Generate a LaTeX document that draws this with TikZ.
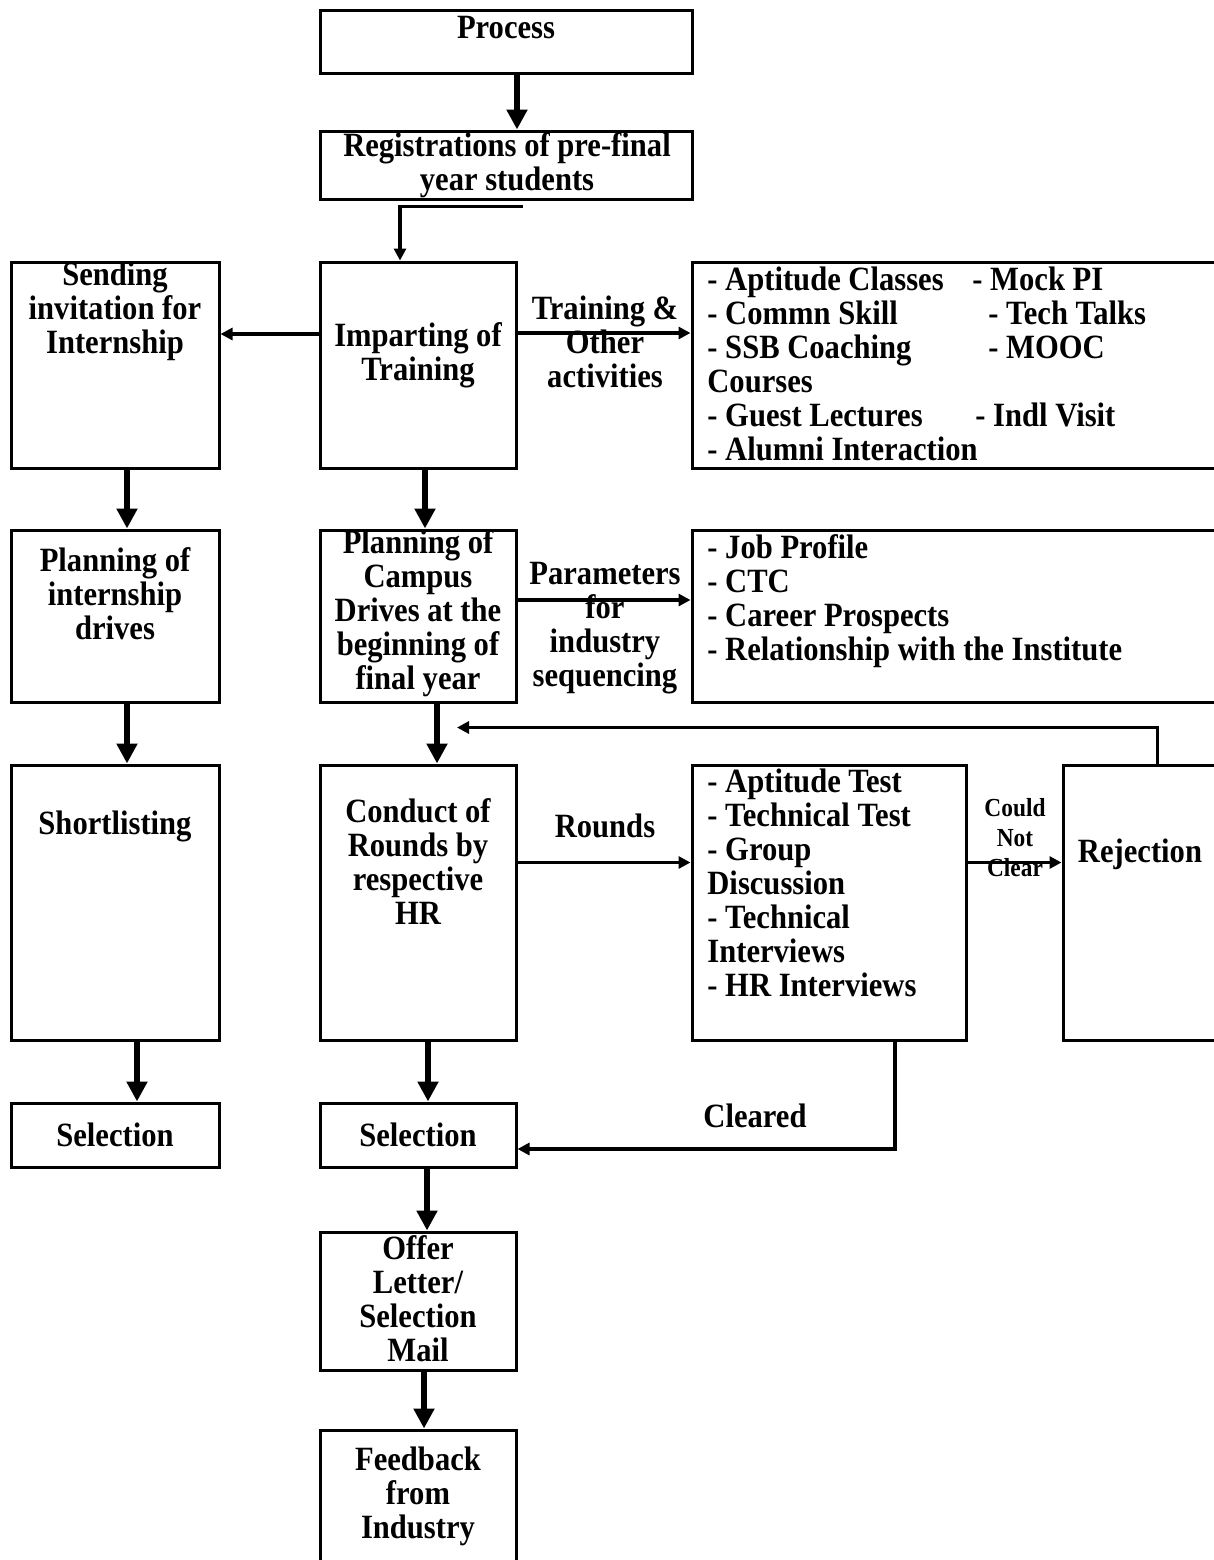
\documentclass[tikz,border=0pt]{standalone}
\usepackage{fontspec}
\setmainfont{Liberation Serif}[FakeStretch=0.9]
\usetikzlibrary{fit,arrows.meta}

\tikzset{
  box/.style={draw, line width=1.5pt, inner sep=0pt},
  txt/.style={font=\bfseries\fontsize{17}{17}\selectfont, align=center, inner sep=0pt},
  lst/.style={font=\bfseries\fontsize{17}{17}\selectfont, align=left, inner sep=0pt, anchor=north west},
  flow/.style={line width=2.8pt, -{Triangle[length=10pt,width=10pt]}},
  link/.style={line width=1.8pt, -{Triangle[length=6pt,width=6pt]}}
}

\begin{document}
\begin{tikzpicture}[x=0.5pt, y=-0.5pt]
  \path[use as bounding box, clip] (0,0) rectangle (1214,1560);

  % Boxes of the middle column
  \node[box, fit={(320,10) (692,73)}] (proc) {};
  \node[box, fit={(320,131) (692,199)}] (reg) {};
  \node[box, fit={(320,262) (516,468)}] (imp) {};
  \node[box, fit={(320,530) (516,702)}] (cmp) {};
  \node[box, fit={(320,765) (516,1040)}] (cnd) {};
  \node[box, fit={(320,1103) (516,1167)}] (selB) {};
  \node[box, fit={(320,1232) (516,1370)}] (off) {};
  \node[box, fit={(320,1430) (516,1566)}] (fdb) {};

  % Boxes of the internship column
  \node[box, fit={(11,262) (219,468)}] (send) {};
  \node[box, fit={(11,530) (219,702)}] (pln) {};
  \node[box, fit={(11,765) (219,1040)}] (sht) {};
  \node[box, fit={(11,1103) (219,1167)}] (selA) {};

  % Boxes on the right
  \node[box, fit={(692,262) (1222,468)}] (trn) {};
  \node[box, fit={(692,530) (1222,702)}] (par) {};
  \node[box, fit={(692,765) (966,1040)}] (rnd) {};
  \node[box, fit={(1063,765) (1222,1040)}] (rej) {};

  % Texts in the boxes
  \node[txt] (procT) at (506,28) {Process};
  \node[txt] (regT) at (507,165) {Registrations of pre-final\\year students};
  \node[txt] (impT) at (418,355) {Imparting of\\Training};
  \node[txt] (cmpT) at (418,613) {Planning of\\Campus\\Drives at the\\beginning of\\final year};
  \node[txt] (cndT) at (418,862) {Conduct of\\Rounds by\\respective\\HR};
  \node[txt] (selBT) at (418,1135) {Selection};
  \node[txt] (offT) at (418,1299) {Offer\\Letter/\\Selection\\Mail};
  \node[txt] (fdbT) at (418,1496) {Feedback\\from\\Industry};
  \node[txt] (sendT) at (115,311) {Sending\\invitation for\\Internship};
  \node[txt] (plnT) at (115,594) {Planning of\\internship\\drives};
  \node[txt] (shtT) at (115,826) {Shortlisting};
  \node[txt] (selAT) at (115,1135) {Selection};
  \node[txt] (rejT) at (1140,854) {Rejection};

  \node[lst] (trnL) at (707,266) {- Aptitude Classes\\- Commn Skill\\- SSB Coaching\\Courses\\- Guest Lectures\\- Alumni Interaction};
  \node[lst] (trnR) at (972,266) {- Mock PI\\\hspace*{8pt}- Tech Talks\\\hspace*{8pt}- MOOC\\[17pt]\hspace*{1.5pt}- Indl Visit};
  \node[lst] (parL) at (707,534) {- Job Profile\\- CTC\\- Career Prospects\\- Relationship with the Institute};
  \node[lst] (rndL) at (707,768) {- Aptitude Test\\- Technical Test\\- Group\\Discussion\\- Technical\\Interviews\\- HR Interviews};

  % Texts on the connectors
  \node[txt] (trnLab) at (605,342) {Training \&\\Other\\activities};
  \node[txt] (parLab) at (605,628) {Parameters\\for\\industry\\sequencing};
  \node[txt] (rndLab) at (605,826) {Rounds};
  \node[txt, font=\bfseries\fontsize{13}{15}\selectfont] (rejLab) at (1015,838) {Could\\Not\\Clear};
  \node[txt] (clrLab) at (755,1116) {Cleared};

  % Connectors
  \draw[flow] ([xshift=5.5pt]proc.south) -- ([xshift=5.5pt]reg.north);
  \draw[link] ([xshift=8.5pt,yshift=-3pt]reg.south) -| ([xshift=-9pt]imp.north);
  \draw[link] ([yshift=15.5pt]imp.west) -- ([yshift=15.5pt]send.east);
  \draw[link] ([yshift=16pt]imp.east) -- ([yshift=16pt]trn.west);
  \draw[flow] ([xshift=6pt]send.south) -- ([xshift=6pt]pln.north);
  \draw[flow] ([xshift=3.5pt]imp.south) -- ([xshift=3.5pt]cmp.north);
  \draw[link] ([yshift=8pt]cmp.east) -- ([yshift=8pt]par.west);
  \draw[flow] ([xshift=6pt]pln.south) -- ([xshift=6pt]sht.north);
  \draw[flow] ([xshift=9.5pt]cmp.south) -- ([xshift=9.5pt]cnd.north);
  \draw[link] ([yshift=20pt]cnd.east) -- ([yshift=20pt]rnd.west);
  \draw[link] ([yshift=20pt]rnd.east) -- ([yshift=20pt]rej.west);
  \draw[link] ([xshift=7.5pt]rej.north) |- ([xshift=19.5pt,yshift=-12pt]cmp.south);
  \draw[flow] ([xshift=11pt]sht.south) -- ([xshift=11pt]selA.north);
  \draw[flow] ([xshift=5pt]cnd.south) -- ([xshift=5pt]selB.north);
  \draw[link] ([xshift=33pt]rnd.south) |- ([yshift=-7pt]selB.east);
  \draw[flow] ([xshift=4.5pt]selB.south) -- ([xshift=4.5pt]off.north);
  \draw[flow] ([xshift=3pt]off.south) -- ([xshift=3pt]fdb.north);
\end{tikzpicture}
\end{document}
